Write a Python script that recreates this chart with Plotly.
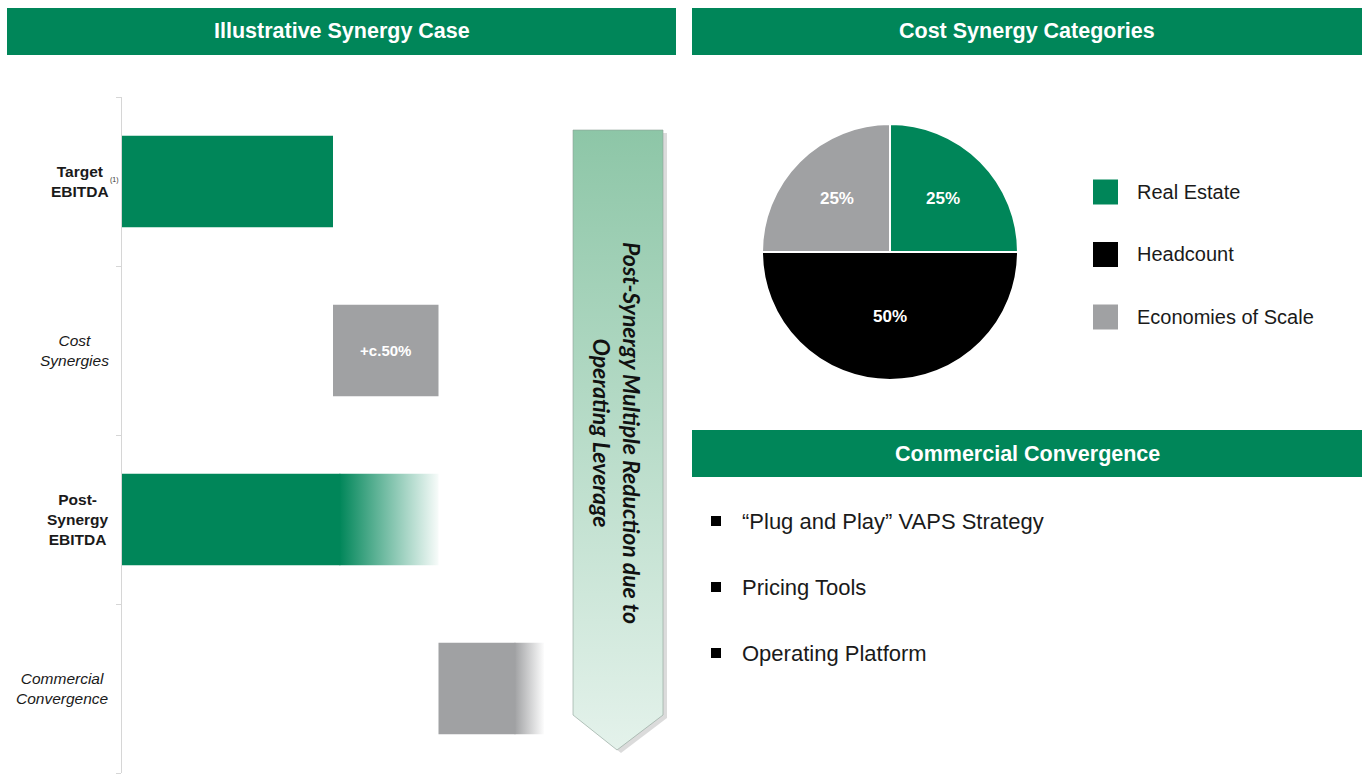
import plotly.graph_objects as go

W, H = 1366, 776
GREEN = "#008659"
GRAY = "#A0A1A3"
FONT = "Liberation Sans, Arial, sans-serif"

# section headers
headers = ["Illustrative Synergy Case", "Cost Synergy Categories", "Commercial Convergence"]

# left: synergy bridge
cat_labels = ["<b>Target<br>EBITDA</b>", "<i>Cost<br>Synergies</i>",
              "<b>Post-<br>Synergy<br>EBITDA</b>", "<i>Commercial<br>Convergence</i>"]
bar_base = [0.0, 2.0, 0.0, 3.0]
bar_value = [2.0, 1.0, 3.0, 1.0]
bar_text = ["", "+c.50%", "", ""]
bar_color = [GREEN, GRAY, GREEN, GRAY]
fade_part = [0.0, 0.0, 0.93, 0.27]   # faded tail of the bar, in bar units

arrow_text = "Post-Synergy Multiple Reduction due to<br>Operating Leverage"

# right: pie
pie_labels = ["Real Estate", "Headcount", "Economies of Scale"]
pie_values = [25, 50, 25]
pie_colors = [GREEN, "#000000", GRAY]

bullets = ["\u201cPlug and Play\u201d VAPS Strategy", "Pricing Tools", "Operating Platform"]


def px(x):
    return x / W


def py(y):
    return 1 - y / H


def rgba(hexcol, a):
    h = hexcol.lstrip("#")
    r, g, b = int(h[0:2], 16), int(h[2:4], 16), int(h[4:6], 16)
    return f"rgba({r},{g},{b},{a})"


fig = go.Figure()

# bars (solid part) + faded tails
half = 0.27
for i in range(len(bar_value)):
    solid = bar_value[i] - fade_part[i]
    fig.add_trace(go.Bar(
        y=[i], x=[solid], base=[bar_base[i]], orientation="h", width=2 * half,
        marker=dict(color=bar_color[i], line=dict(width=0)),
        text=[bar_text[i]], texttemplate="<b>%{text}</b>", textposition="inside",
        insidetextanchor="middle", constraintext="none",
        textfont=dict(color="white", size=15, family=FONT),
        showlegend=False, hoverinfo="skip",
        xaxis="x", yaxis="y",
    ))
    if fade_part[i] > 0:
        x0 = bar_base[i] + solid - 0.01
        x1 = bar_base[i] + bar_value[i]
        fig.add_trace(go.Scatter(
            x=[x0, x1, x1, x0, x0], y=[i - half, i - half, i + half, i + half, i - half],
            mode="lines", line=dict(width=0), fill="toself",
            fillgradient=dict(type="horizontal",
                              colorscale=[[0, bar_color[i]], [1, rgba(bar_color[i], 0.03)]]),
            showlegend=False, hoverinfo="skip", xaxis="x", yaxis="y",
        ))

# decorative arrow, in a full-page pixel-space axis
ax = [573, 663, 663, 617, 573, 573]
ay = [130, 130, 715, 750, 715, 130]
fig.add_trace(go.Scatter(
    x=[v + 4 for v in ax], y=[H - v - 3 for v in ay], mode="lines",
    line=dict(width=0), fill="toself", fillcolor="rgba(0,0,0,0.14)",
    showlegend=False, hoverinfo="skip", xaxis="x2", yaxis="y2",
))
fig.add_trace(go.Scatter(
    x=ax, y=[H - v for v in ay], mode="lines",
    line=dict(width=1, color="rgba(140,160,150,0.6)"), fill="toself",
    fillgradient=dict(type="vertical", start=H - 750, stop=H - 130,
                      colorscale=[[0, "#E4F2EB"], [1, "#8DC6A7"]]),
    showlegend=False, hoverinfo="skip", xaxis="x2", yaxis="y2",
))

# pie
fig.add_trace(go.Pie(
    labels=pie_labels, values=pie_values, sort=False, direction="clockwise", rotation=0,
    marker=dict(colors=pie_colors, line=dict(color="white", width=2)),
    texttemplate="<b>%{percent:.0%}</b>", textposition="inside",
    insidetextorientation="horizontal",
    textfont=dict(color="white", size=17, family=FONT),
    domain=dict(x=[px(762), px(1018)], y=[py(380), py(124)]),
    showlegend=False, hoverinfo="label+percent",
))

shapes = []
annotations = []


def note(x, y, text, size, color="#1a1a1a", xanchor="center", **kw):
    d = dict(xref="paper", yref="paper", x=px(x), y=py(y), text=text, showarrow=False,
             xanchor=xanchor, yanchor="middle", font=dict(color=color, size=size, family=FONT))
    d.update(kw)
    annotations.append(d)


# header bars
for (x0, y0, x1, y1), txt in zip([(7, 8, 676, 55), (692, 8, 1362, 55), (692, 430, 1362, 477)], headers):
    shapes.append(dict(type="rect", xref="paper", yref="paper", x0=px(x0), x1=px(x1),
                       y0=py(y1), y1=py(y0), fillcolor=GREEN, line=dict(width=0), layer="below"))
    note((x0 + x1) / 2, (y0 + y1) / 2, f"<b>{txt}</b>", 21.5, color="white")

# category labels
for i, lab in enumerate(cat_labels):
    annotations.append(dict(xref="paper", yref="y", x=px(111), y=i, xanchor="right",
                            yanchor="middle", text=lab, align="center", showarrow=False,
                            font=dict(color="#1a1a1a", size=15.5, family=FONT)))
annotations.append(dict(xref="paper", yref="y", x=px(108), y=-0.01, xanchor="left",
                        yanchor="middle", text="(1)", showarrow=False,
                        font=dict(color="#333333", size=7, family=FONT)))

# arrow text
annotations.append(dict(xref="x2", yref="y2", x=617, y=H - 433, text=f"<b><i>{arrow_text}</i></b>",
                        textangle=90, align="center", showarrow=False,
                        xanchor="center", yanchor="middle",
                        font=dict(color="#111111", size=23, family="Lato, sans-serif")))

# pie legend
for k, lab in enumerate(pie_labels):
    yc = 192 + k * 62.5
    shapes.append(dict(type="rect", xref="paper", yref="paper", x0=px(1093), x1=px(1118),
                       y0=py(yc + 12.5), y1=py(yc - 12.5), fillcolor=pie_colors[k],
                       line=dict(width=0)))
    note(1135, yc, lab, 20, xanchor="left")

# bullets
for k, txt in enumerate(bullets):
    yc = 521 + k * 66
    shapes.append(dict(type="rect", xref="paper", yref="paper", x0=px(711), x1=px(721),
                       y0=py(yc + 5), y1=py(yc - 5), fillcolor="#000000", line=dict(width=0)))
    note(740, yc, txt, 22, xanchor="left")

fig.update_layout(
    width=W, height=H, margin=dict(l=0, r=0, t=0, b=0),
    paper_bgcolor="white", plot_bgcolor="rgba(0,0,0,0)",
    barmode="overlay", showlegend=False,
    xaxis=dict(domain=[px(122), px(560)], range=[0, (560 - 122) / 105.5],
               showgrid=False, zeroline=False, showticklabels=False, ticks=""),
    yaxis=dict(domain=[py(773), py(97)], range=[3.5, -0.5], showgrid=False, zeroline=False,
               showline=True, linecolor="#D6D6D6", linewidth=1,
               tickmode="array", tickvals=[-0.5, 0.5, 1.5, 2.5, 3.5],
               ticktext=["", "", "", "", ""], ticks="outside", ticklen=5, tickcolor="#D6D6D6"),
    xaxis2=dict(domain=[0, 1], range=[0, W], visible=False, anchor="y2"),
    yaxis2=dict(domain=[0, 1], range=[0, H], visible=False, anchor="x2"),
    shapes=shapes, annotations=annotations,
)

fig.write_html("out.html", config={"displayModeBar": False},
               post_script="document.body.style.margin='0px';")
